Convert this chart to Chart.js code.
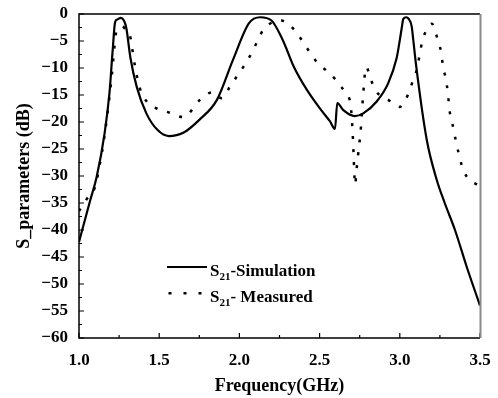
<!DOCTYPE html>
<html>
<head>
<meta charset="utf-8">
<script src="https://cdn.jsdelivr.net/npm/chart.js@4.4.1/dist/chart.umd.min.js"></script>
<style>
  html, body { margin: 0; padding: 0; background: #fff; }
  #wrap { width: 498px; height: 398px; position: relative; }
</style>
</head>
<body>
<div id="wrap"><canvas id="chart" width="498" height="398"></canvas></div>
<script>
// S21 simulation (solid)
const simFreq = [1.00, 1.07, 1.11, 1.16, 1.19, 1.21, 1.225, 1.24, 1.26, 1.28, 1.295, 1.32, 1.36, 1.42, 1.49, 1.56, 1.65, 1.75, 1.86, 1.96, 2.06, 2.13, 2.20, 2.27, 2.34, 2.42, 2.51, 2.565, 2.596, 2.61, 2.648, 2.72, 2.772, 2.856, 2.928, 2.98, 2.997, 3.012, 3.022, 3.04, 3.053, 3.074, 3.084, 3.10, 3.168, 3.23, 3.28, 3.344, 3.417, 3.50];
const simDb = [-42.2, -34.5, -30.2, -22, -14.6, -6.7, -1.5, -1.0, -0.7, -1.2, -2.6, -8, -13.5, -18.4, -21.5, -22.6, -22, -19.6, -15.9, -8.5, -1.7, -0.6, -1.2, -4.8, -9.8, -14, -17.8, -19.9, -21.3, -16.5, -17.8, -18.9, -18.4, -16.2, -12.8, -8.2, -5.4, -2.6, -0.9, -0.6, -0.8, -2.3, -4.8, -9.1, -23.3, -30.7, -35, -40, -46.8, -54];

// S21 measured (dotted)
const measFreq = [1.00, 1.05, 1.10, 1.135, 1.15, 1.175, 1.205, 1.215, 1.23, 1.25, 1.27, 1.29, 1.313, 1.33, 1.35, 1.38, 1.43, 1.485, 1.567, 1.65, 1.754, 1.83, 1.89, 1.94, 1.99, 2.04, 2.08, 2.116, 2.147, 2.216, 2.26, 2.30, 2.36, 2.43, 2.48, 2.55, 2.61, 2.66, 2.694, 2.70, 2.706, 2.712, 2.718, 2.722, 2.73, 2.74, 2.758, 2.77, 2.79, 2.82, 2.855, 2.928, 3.00, 3.05, 3.08, 3.105, 3.14, 3.17, 3.20, 3.234, 3.257, 3.27, 3.288, 3.30, 3.31, 3.327, 3.344, 3.386, 3.417, 3.486, 3.50];
const measDb = [-36.5, -34.2, -32, -27, -24.4, -19, -11.3, -8, -3.6, -2.6, -2.3, -2.8, -3.4, -6.1, -9.8, -13.8, -16.5, -17.5, -18.3, -19.1, -15.9, -14.5, -15.6, -13.5, -11.3, -9.1, -7, -4.8, -3, -1.4, -1.2, -1.7, -3.6, -6.7, -8.8, -10.7, -12.5, -14.6, -16.9, -19, -22, -26, -30.5, -31.6, -28.9, -26.1, -20.9, -15.6, -9.8, -12.2, -14.4, -15.9, -17.2, -15, -12.5, -10.4, -5.1, -2.7, -1.8, -4.5, -7, -9.8, -12.2, -14.7, -17.8, -20.2, -22.7, -28, -30.1, -31.7, -32];

const xTicks = [1.0, 1.5, 2.0, 2.5, 3.0, 3.5];
const yTicks = [0, -5, -10, -15, -20, -25, -30, -35, -40, -45, -50, -55, -60];

const serif = '"Liberation Serif", "Times New Roman", serif';

function toPoints(xs, ys) {
  return xs.map((x, i) => ({ x: x, y: ys[i] }));
}

// frame, inward ticks and legend
const framePlugin = {
  id: 'frame',
  afterDraw(chart) {
    const ctx = chart.ctx;
    const a = chart.chartArea;
    const xs = chart.scales.x;
    const ys = chart.scales.y;
    ctx.save();

    // ticks (inside)
    ctx.strokeStyle = '#000';
    ctx.lineWidth = 1.2;
    ctx.beginPath();
    for (let i = 0; i < xTicks.length; i++) {
      const px = xs.getPixelForValue(xTicks[i]);
      ctx.moveTo(px, a.bottom); ctx.lineTo(px, a.bottom - 5);
      if (i < xTicks.length - 1) {
        const mx = xs.getPixelForValue((xTicks[i] + xTicks[i + 1]) / 2);
        ctx.moveTo(mx, a.bottom); ctx.lineTo(mx, a.bottom - 3);
      }
    }
    for (let i = 0; i < yTicks.length; i++) {
      const py = ys.getPixelForValue(yTicks[i]);
      ctx.moveTo(a.left, py); ctx.lineTo(a.left + 5, py);
      if (i < yTicks.length - 1) {
        const my = ys.getPixelForValue((yTicks[i] + yTicks[i + 1]) / 2);
        ctx.moveTo(a.left, my); ctx.lineTo(a.left + 3, my);
      }
    }
    ctx.stroke();

    // frame
    ctx.lineWidth = 1.5;
    ctx.beginPath();
    ctx.moveTo(a.right, a.top); ctx.lineTo(a.left, a.top);
    ctx.lineTo(a.left, a.bottom); ctx.lineTo(a.right, a.bottom);
    ctx.stroke();
    ctx.strokeStyle = '#8a8a8a';
    ctx.lineWidth = 2;
    ctx.beginPath();
    ctx.moveTo(a.right + 0.5, a.top); ctx.lineTo(a.right + 0.5, a.bottom);
    ctx.stroke();

    // legend
    ctx.strokeStyle = '#000';
    ctx.lineWidth = 2.2;
    ctx.beginPath();
    ctx.moveTo(167, 267); ctx.lineTo(207, 267);
    ctx.stroke();
    ctx.fillStyle = '#000';
    [170, 185, 200].forEach(dx => ctx.fillRect(dx - 1.5, 292, 3, 2.5));

    const rows = [['-Simulation', 276], ['- Measured', 301.5]];
    rows.forEach(([rest, base]) => {
      let x = 210;
      ctx.font = 'bold 17px ' + serif;
      ctx.textBaseline = 'alphabetic';
      ctx.textAlign = 'left';
      ctx.fillText('S', x, base);
      x += ctx.measureText('S').width;
      ctx.font = 'bold 11px ' + serif;
      ctx.fillText('21', x, base + 4);
      x += ctx.measureText('21').width;
      ctx.font = 'bold 17px ' + serif;
      ctx.fillText(rest, x, base);
    });
    ctx.restore();
  }
};

new Chart(document.getElementById('chart'), {
  type: 'line',
  data: {
    datasets: [
      {
        label: 'S21-Simulation',
        data: toPoints(simFreq, simDb),
        borderColor: '#000',
        borderWidth: 2.2,
        pointRadius: 0,
        cubicInterpolationMode: 'monotone',
        fill: false
      },
      {
        label: 'S21- Measured',
        data: toPoints(measFreq, measDb),
        borderColor: '#000',
        borderWidth: 2.5,
        borderDash: [3, 10],
        borderCapStyle: 'butt',
        pointRadius: 0,
        cubicInterpolationMode: 'monotone',
        fill: false
      }
    ]
  },
  options: {
    responsive: false,
    animation: false,
    layout: { padding: { top: 14, right: 18, left: 0, bottom: 0 } },
    plugins: {
      legend: { display: false },
      tooltip: { enabled: false }
    },
    scales: {
      x: {
        type: 'linear',
        min: 1.0,
        max: 3.5,
        afterFit: (s) => { s.height = 60; s.paddingLeft = 0; s.paddingRight = 0; },
        grid: { display: false, drawTicks: false },
        border: { display: false },
        ticks: {
          stepSize: 0.5,
          padding: 12,
          color: '#000',
          font: { family: serif, size: 17, weight: 'bold' },
          callback: (v) => v.toFixed(1)
        },
        title: {
          display: true,
          text: 'Frequency(GHz)',
          color: '#000',
          font: { family: serif, size: 18, weight: 'bold' },
          padding: { top: 1, bottom: 1 }
        }
      },
      y: {
        min: -60,
        max: 0,
        afterFit: (s) => { s.width = 79; s.paddingTop = 0; s.paddingBottom = 0; },
        grid: { display: false, drawTicks: false },
        border: { display: false },
        ticks: {
          stepSize: 5,
          padding: 11,
          color: '#000',
          font: { family: serif, size: 17, weight: 'bold' },
          callback: (v) => String(v).replace('-', '\u2212')
        },
        title: {
          display: true,
          text: 'S_parameters (dB)',
          color: '#000',
          font: { family: serif, size: 18, weight: 'bold' },
          padding: { top: 14, bottom: 0 }
        }
      }
    }
  },
  plugins: [framePlugin]
});
</script>
</body>
</html>
